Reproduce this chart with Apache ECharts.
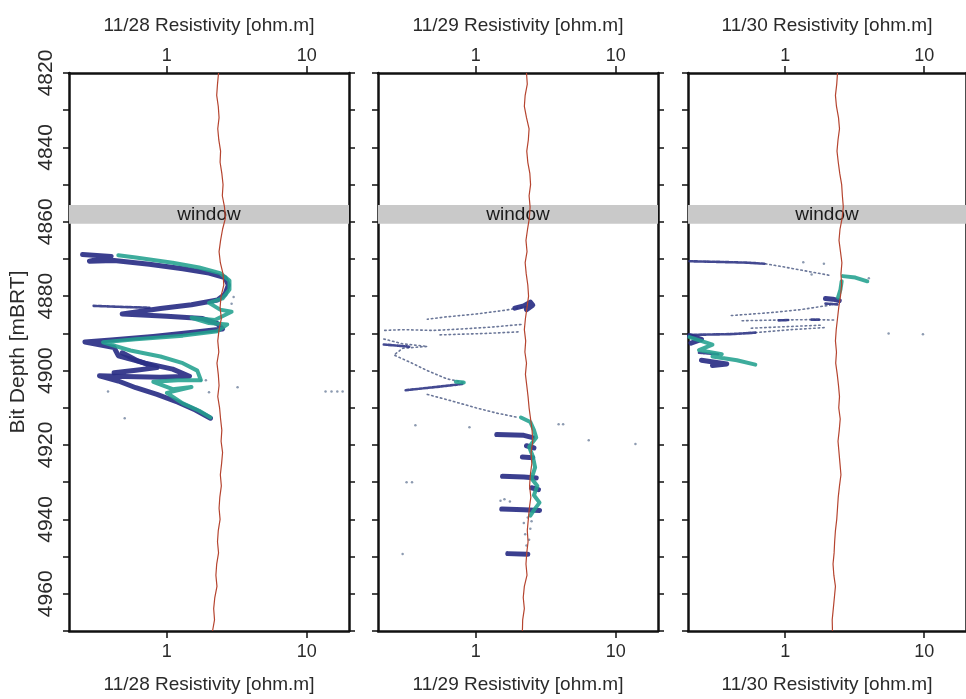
<!DOCTYPE html>
<html>
<head>
<meta charset="utf-8">
<script src="https://cdn.jsdelivr.net/npm/echarts@6/dist/echarts.min.js"></script>
<style>
  html, body { margin: 0; padding: 0; background: #fff; overflow: hidden; }
  #chart { width: 966px; height: 699px; }
</style>
</head>
<body>
<div id="chart"></div>
<script>
// panel titles
var dates = ['11/28', '11/29', '11/30']

// depth grid for the red reference log (m)
var redDepth = [4820, 4823, 4826, 4829, 4832, 4835, 4838, 4841, 4844, 4847, 4850, 4853, 4856, 4859, 4862, 4865, 4868,
  4871, 4874, 4877, 4880, 4883, 4886, 4889, 4892, 4895, 4898, 4901, 4904, 4907, 4910, 4913, 4916, 4919, 4922, 4925,
  4928, 4931, 4934, 4937, 4940, 4943, 4946, 4949, 4952, 4955, 4958, 4961, 4964, 4967, 4970]

// red log resistivity (ohm.m) per panel
var red1 = [2.34, 2.30, 2.27, 2.33, 2.36, 2.31, 2.35, 2.42, 2.40, 2.47, 2.52, 2.49, 2.58, 2.62, 2.50, 2.42, 2.36,
  2.41, 2.52, 2.55, 2.44, 2.40, 2.45, 2.36, 2.31, 2.35, 2.28, 2.33, 2.36, 2.31, 2.38, 2.42, 2.47, 2.44, 2.50, 2.46,
  2.41, 2.45, 2.39, 2.36, 2.40, 2.33, 2.30, 2.34, 2.27, 2.24, 2.28, 2.20, 2.16, 2.19, 2.12]
var red2 = [2.30, 2.33, 2.25, 2.22, 2.30, 2.40, 2.37, 2.31, 2.35, 2.43, 2.46, 2.40, 2.44, 2.41, 2.34, 2.28, 2.32,
  2.25, 2.29, 2.35, 2.38, 2.32, 2.26, 2.22, 2.27, 2.24, 2.30, 2.26, 2.31, 2.36, 2.40, 2.46, 2.52, 2.55, 2.48, 2.51,
  2.45, 2.42, 2.47, 2.41, 2.37, 2.33, 2.36, 2.31, 2.28, 2.32, 2.22, 2.18, 2.22, 2.16, 2.15]
var red3 = [2.38, 2.35, 2.30, 2.34, 2.42, 2.46, 2.40, 2.36, 2.41, 2.47, 2.55, 2.58, 2.62, 2.57, 2.48, 2.44, 2.50,
  2.56, 2.52, 2.55, 2.50, 2.43, 2.38, 2.33, 2.30, 2.34, 2.31, 2.37, 2.42, 2.46, 2.43, 2.49, 2.45, 2.40, 2.44, 2.48,
  2.52, 2.46, 2.41, 2.38, 2.35, 2.30, 2.27, 2.25, 2.21, 2.24, 2.30, 2.26, 2.22, 2.18, 2.19]

// window interval (m)
var windowTop = 4855.5
var windowBottom = 4860.5

// bit resistivity clouds, [resistivity, depth]
var p1Navy = [
  [[0.25, 4868.8], [0.40, 4869.3], [0.28, 4870.6], [0.42, 4870.4], [0.75, 4871.4], [1.3, 4872.6], [2.0, 4873.8],
   [2.6, 4875.0], [2.75, 4877.0], [2.6, 4879.5], [2.3, 4881.0], [1.5, 4882.3], [0.9, 4883.3], [0.48, 4884.8],
   [1.0, 4885.4], [1.8, 4886.0], [2.3, 4887.4], [2.5, 4888.8], [1.6, 4889.6], [0.8, 4890.8], [0.40, 4891.8],
   [0.26, 4892.3], [0.42, 4893.8], [0.45, 4896.0], [0.7, 4898.0], [1.1, 4899.6], [1.45, 4901.5], [0.9, 4901.8],
   [0.5, 4901.6], [0.33, 4901.4], [0.45, 4902.8], [0.6, 4904.6], [0.85, 4906.4], [1.2, 4908.5], [1.6, 4910.6],
   [2.05, 4912.8]],
  [[0.48, 4895.2], [0.62, 4897.4], [0.85, 4899.2], [0.6, 4899.9], [0.42, 4900.6]]
]
var p1Teal = [
  [[0.45, 4869.0], [0.6, 4869.6], [1.1, 4871.0], [1.7, 4872.3], [2.4, 4873.8], [2.8, 4875.8], [2.8, 4878.2],
   [2.5, 4880.6], [2.0, 4881.8], [2.4, 4883.6], [2.9, 4884.2], [2.2, 4886.4], [1.5, 4885.8], [2.0, 4887.2],
   [2.7, 4887.6], [2.3, 4889.4], [1.3, 4890.6], [0.6, 4891.6], [0.35, 4892.4], [0.55, 4894.6], [0.9, 4896.2],
   [1.3, 4898.0], [1.65, 4900.0], [1.75, 4902.6], [1.2, 4902.6], [0.8, 4903.0], [1.1, 4905.0], [1.5, 4904.4],
   [1.0, 4906.0], [1.3, 4908.8], [1.7, 4910.8], [2.05, 4912.6]]
]
var p1Dense = [
  [[0.3, 4882.6], [0.5, 4882.9], [0.75, 4883.1]]
]
var p1Trails = []
var p1Dots = [[0.38, 4905.6], [0.5, 4912.8], [3.2, 4904.5], [13.6, 4905.6], [15.0, 4905.6], [16.5, 4905.6],
  [18.0, 4905.6], [1.75, 4902.6], [1.9, 4902.6], [2.0, 4905.8], [3.0, 4880.2], [2.9, 4882.0]]

var p2Navy = [
  [[1.9, 4883.2], [2.2, 4882.6], [2.45, 4881.6], [2.55, 4882.4], [2.3, 4883.6]],
  [[1.41, 4917.2], [2.2, 4917.4], [2.55, 4918.0]],
  [[2.3, 4920.2], [2.6, 4920.8]],
  [[2.15, 4923.2], [2.55, 4923.4]],
  [[1.55, 4928.4], [2.2, 4928.6], [2.7, 4928.9]],
  [[2.5, 4931.5], [2.8, 4932.0]],
  [[1.53, 4937.2], [2.2, 4937.4], [2.85, 4937.6]],
  [[1.69, 4949.2], [2.35, 4949.4]]
]
var p2Teal = [
  [[2.1, 4912.6], [2.45, 4913.8], [2.6, 4916.0], [2.7, 4918.0], [2.4, 4920.5], [2.55, 4923.0], [2.65, 4926.0],
   [2.5, 4929.0], [2.75, 4931.0], [2.6, 4933.5], [2.85, 4935.5], [2.6, 4937.5], [2.45, 4939.0]],
  [[0.72, 4903.0], [0.82, 4903.2]]
]
var p2Dense = [
  [[0.80, 4903.6], [0.55, 4904.3], [0.31, 4905.3]],
  [[0.22, 4893.0], [0.28, 4893.3], [0.34, 4893.6]]
]
var p2Trails = [
  [[2.3, 4882.8], [1.6, 4883.8], [1.0, 4884.8], [0.6, 4885.6], [0.45, 4886.2]],
  [[2.1, 4887.6], [1.3, 4888.3], [0.8, 4888.8], [0.5, 4889.2], [0.3, 4889.0], [0.22, 4889.2]],
  [[2.0, 4889.6], [1.2, 4890.0], [0.55, 4890.4]],
  [[0.22, 4891.5], [0.30, 4892.8], [0.45, 4893.5], [0.3, 4894.0], [0.26, 4895.8], [0.35, 4898.0], [0.45, 4900.0],
   [0.62, 4902.2], [0.82, 4903.2]],
  [[0.45, 4906.4], [0.65, 4908.0], [1.0, 4910.0], [1.4, 4911.4], [1.95, 4912.5]]
]
var p2Dots = [[0.37, 4914.7], [3.9, 4914.4], [4.2, 4914.4], [6.4, 4918.7], [13.8, 4919.7], [0.32, 4930],
  [0.35, 4930], [0.3, 4949.3], [1.5, 4935], [1.6, 4934.6], [1.75, 4935.2], [0.9, 4915.2], [2.35, 4939.5],
  [2.2, 4941], [2.45, 4942.5], [2.25, 4944], [2.4, 4945.5], [2.3, 4947], [2.5, 4940.5]]

var p3Navy = [
  [[1.95, 4880.6], [2.2, 4880.8], [2.45, 4881.2]],
  [[0.205, 4890.6], [0.25, 4891.6], [0.21, 4892.6]],
  [[0.25, 4897.2], [0.38, 4898.2], [0.3, 4898.6]]
]
var p3Teal = [
  [[2.6, 4874.6], [3.2, 4875.0], [3.9, 4876.0]],
  [[2.55, 4876.0], [2.5, 4878.2], [2.4, 4880.4]],
  [[0.205, 4891.0], [0.3, 4893.0], [0.24, 4894.5], [0.35, 4895.6], [0.3, 4896.2], [0.45, 4897.2], [0.61, 4898.4]]
]
var p3Dense = [
  [[0.205, 4870.6], [0.35, 4870.8], [0.55, 4871.0], [0.72, 4871.3]],
  [[1.95, 4882.0], [2.4, 4882.2]],
  [[0.9, 4886.5], [1.05, 4886.4]],
  [[1.55, 4886.3], [1.75, 4886.3]],
  [[0.205, 4890.4], [0.4, 4890.2], [0.61, 4889.8]],
  [[0.24, 4895.2], [0.33, 4895.6]]
]
var p3Trails = [
  [[0.72, 4871.3], [1.0, 4872.2], [1.4, 4873.2], [2.1, 4874.4]],
  [[0.41, 4885.2], [0.8, 4884.4], [1.3, 4883.6], [2.1, 4882.4]],
  [[0.49, 4886.6], [0.9, 4886.4], [1.5, 4886.3], [2.26, 4886.4]],
  [[0.57, 4888.6], [1.0, 4888.2], [1.8, 4887.8]],
  [[0.61, 4889.8], [1.1, 4889.0], [2.0, 4888.4]]
]
var p3Dots = [[5.55, 4890.0], [9.8, 4890.2], [4.0, 4875.2], [1.35, 4870.9], [1.9, 4871.3], [1.55, 4874.2]]

var panels = [
  { left: 69, red: red1, navy: p1Navy, teal: p1Teal, dense: p1Dense, trails: p1Trails, dots: p1Dots },
  { left: 378, red: red2, navy: p2Navy, teal: p2Teal, dense: p2Dense, trails: p2Trails, dots: p2Dots },
  { left: 688, red: red3, navy: p3Navy, teal: p3Teal, dense: p3Dense, trails: p3Trails, dots: p3Dots }
]

var font = "'Liberation Sans', Arial, sans-serif"
var ink = '#111'
var textColor = '#2a2a2a'

var chart = echarts.init(document.getElementById('chart'))

var grids = []
var xAxes = []
var yAxes = []
var series = []

function xAxisOf(i, pos) {
  var top = pos === 'top'
  return {
    gridIndex: i,
    type: 'log',
    logBase: 10,
    min: 0.2,
    max: 20,
    position: pos,
    name: dates[i] + ' Resistivity [ohm.m]',
    nameLocation: 'middle',
    nameGap: top ? 38 : 44,
    nameTextStyle: { fontSize: 19, color: textColor, fontFamily: font },
    axisLine: { show: true, onZero: false, lineStyle: { color: ink, width: 2.5 } },
    axisTick: { show: true, length: 7, lineStyle: { color: ink, width: 1.5 } },
    axisLabel: { fontSize: 18, color: textColor, fontFamily: font, margin: top ? 8 : 12, showMinLabel: false, showMaxLabel: false },
    splitLine: { show: false },
    minorTick: { show: false }
  }
}

function yAxisOf(i, pos) {
  var first = i === 0 && pos === 'left'
  return {
    gridIndex: i,
    type: 'value',
    inverse: true,
    min: 4820,
    max: 4970,
    interval: 10,
    position: pos,
    name: first ? 'Bit Depth [mBRT]' : '',
    nameLocation: 'middle',
    nameGap: 40,
    nameRotate: 90,
    nameTextStyle: { fontSize: 21, color: textColor, fontFamily: font },
    axisLine: { show: true, onZero: false, lineStyle: { color: ink, width: 2.5 } },
    axisTick: { show: true, length: 6, lineStyle: { color: ink, width: 1.5 } },
    axisLabel: {
      show: first,
      rotate: 90,
      fontSize: 21,
      color: textColor,
      fontFamily: font,
      margin: 12,
      formatter: function (v) { return (v - 4820) % 20 === 0 ? String(v) : '' }
    },
    splitLine: { show: false }
  }
}

function strokes(list, i, color, width, type, z, opacity) {
  list.forEach(function (pts) {
    series.push({
      type: 'line',
      xAxisIndex: i * 2,
      yAxisIndex: i * 2,
      data: pts,
      symbol: 'none',
      silent: true,
      z: z,
      lineStyle: { color: color, width: width, type: type, cap: 'round', join: 'round', opacity: opacity }
    })
  })
}

panels.forEach(function (p, i) {
  grids.push({ left: p.left, top: 73, width: 280, height: 561 })
  xAxes.push(xAxisOf(i, 'bottom'), xAxisOf(i, 'top'))
  yAxes.push(yAxisOf(i, 'left'), yAxisOf(i, 'right'))

  series.push({
    type: 'line',
    xAxisIndex: i * 2,
    yAxisIndex: i * 2,
    data: redDepth.map(function (d, k) { return [p.red[k], d] }),
    symbol: 'none',
    silent: true,
    z: 5,
    lineStyle: { color: '#b5442f', width: 1.2 },
    markArea: {
      silent: true,
      itemStyle: { color: '#c9c9c9' },
      label: { show: true, position: 'inside', color: '#1a1a1a', fontSize: 19, fontFamily: font },
      data: [[{ name: 'window', yAxis: windowTop }, { yAxis: windowBottom }]]
    }
  })

  strokes(p.trails, i, '#46557f', 1.6, [1.5, 3], 2, 0.8)
  strokes(p.dense, i, '#2f3585', 2.6, [3, 1.5], 3, 0.9)
  strokes(p.navy, i, '#2a2f86', 5, 'solid', 3, 0.92)
  strokes(p.teal, i, '#22a08e', 4, 'solid', 4, 0.88)

  series.push({
    type: 'scatter',
    xAxisIndex: i * 2,
    yAxisIndex: i * 2,
    data: p.dots,
    symbolSize: 2.5,
    silent: true,
    z: 2,
    itemStyle: { color: '#6f819c' }
  })
})

chart.setOption({
  backgroundColor: '#fff',
  animation: false,
  textStyle: { fontFamily: font },
  grid: grids,
  xAxis: xAxes,
  yAxis: yAxes,
  series: series
})
</script>
</body>
</html>
